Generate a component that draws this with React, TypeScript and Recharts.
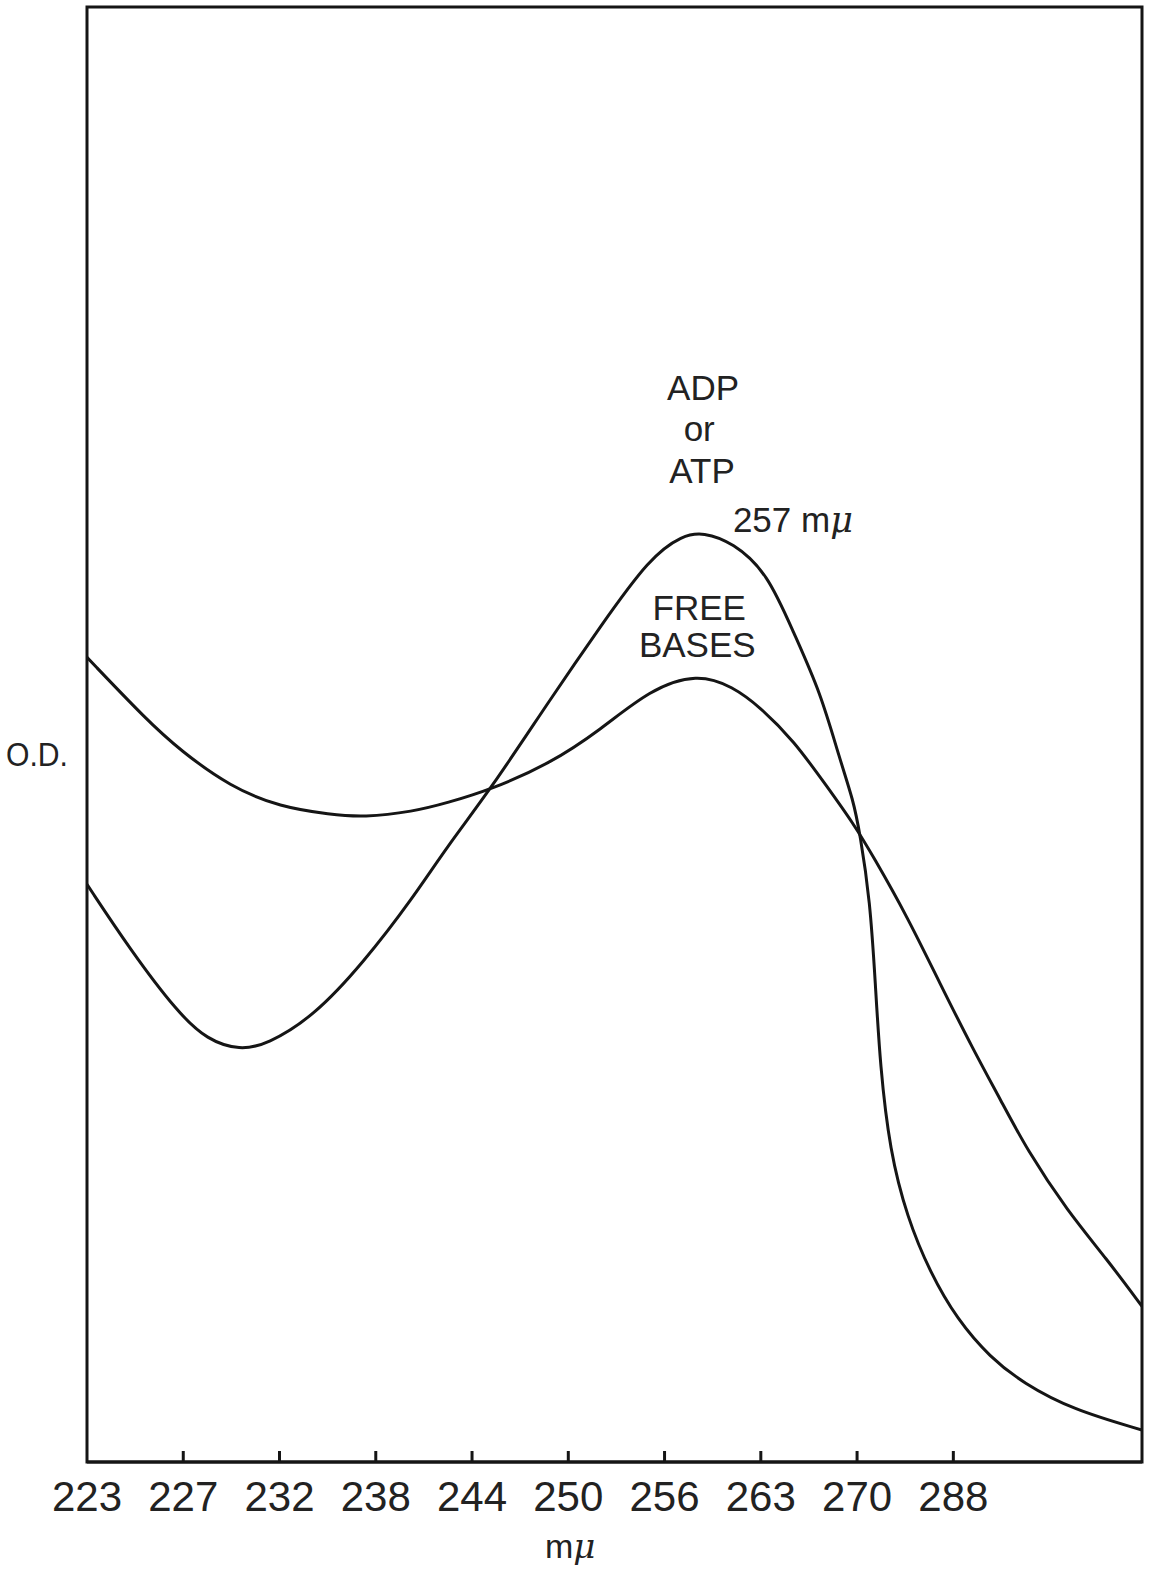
import React from "react";
import { LineChart, Line, XAxis, YAxis, ReferenceArea, ReferenceDot } from "recharts";

// x is measured in axis steps: the wavelength ticks are evenly spaced, 0 = 223 mμ, 9 = 288 mμ
const tickLabels = ["223", "227", "232", "238", "244", "250", "256", "263", "270", "288"];
const tickPos = [0, 1, 2, 3, 4, 5, 6, 7, 8, 9];
const X_END = 10.96;

// ADP or ATP, peak at 257 mμ (O.D. in arbitrary units, 0-100 of the frame)
const atpX = [0, 0.45, 0.94, 1.25, 1.59, 1.87, 2.35, 2.87, 3.39, 3.74, 4.19, 4.81, 5.33, 5.85, 6.19, 6.4, 6.71, 7.07, 7.34, 7.62, 7.82, 7.96, 8.03, 8.135, 8.19, 8.24, 8.34, 8.52, 8.76, 9.04, 9.38, 9.73, 10.24, 10.96];
const atpY = [39.7, 35.2, 30.9, 29.0, 28.3, 28.7, 30.6, 34.3, 38.8, 42.3, 46.2, 52.4, 57.4, 62.2, 63.7, 63.9, 63.2, 61.1, 57.0, 52.9, 48.3, 45.5, 43.2, 38.6, 32.9, 27.2, 21.4, 16.8, 13.0, 9.8, 7.2, 5.4, 3.6, 2.2];

// free bases
const baseX = [0, 0.62, 0.97, 1.49, 2.01, 2.53, 2.87, 3.39, 3.74, 4.19, 4.81, 5.33, 5.85, 6.34, 6.71, 6.99, 7.34, 7.69, 7.96, 8.17, 8.52, 8.86, 9.21, 9.49, 9.77, 10.18, 10.6, 10.96];
const baseY = [55.3, 51.0, 48.9, 46.4, 45.0, 44.5, 44.3, 44.7, 45.3, 46.2, 48.0, 50.3, 53.1, 54.2, 53.3, 51.9, 49.6, 46.4, 43.9, 41.6, 37.5, 32.9, 28.3, 24.9, 21.4, 17.3, 13.9, 10.7];

const notes = [
  { text: "ADP", x: 6.4, y: 73.0, anchor: "middle" },
  { text: "or", x: 6.36, y: 70.2, anchor: "middle" },
  { text: "ATP", x: 6.39, y: 67.3, anchor: "middle" },
  { text: "257 m", mu: true, x: 6.71, y: 63.9, anchor: "start" },
  { text: "FREE", x: 6.36, y: 57.9, anchor: "middle" },
  { text: "BASES", x: 6.34, y: 55.3, anchor: "middle" },
];

const atpData = atpX.map((x, i) => ({ x, y: atpY[i] }));
const baseData = baseX.map((x, i) => ({ x, y: baseY[i] }));

const INK = "#151515";
const FONT = "'Liberation Sans', Arial, sans-serif";

function WaveTick(props: any) {
  const { x, y, payload } = props;
  const i = payload.value as number;
  return (
    <g>
      {i > 0 && <line x1={x} x2={x} y1={y - 1} y2={y - 11} stroke={INK} strokeWidth={3} />}
      <text x={x} y={y + 49} textAnchor="middle" fontSize={42} fontFamily={FONT} fill="#222">
        {tickLabels[i]}
      </text>
    </g>
  );
}

export default function App() {
  return (
    <div style={{ position: "absolute", left: 0, top: 0, background: "#fff" }}>
      <LineChart width={1150} height={1569} margin={{ top: 7, right: 8, left: 0, bottom: 0 }}>
        <XAxis
          type="number"
          dataKey="x"
          domain={[0, X_END]}
          ticks={tickPos}
          allowDataOverflow
          height={107}
          tickSize={0}
          tickMargin={0}
          tickLine={false}
          axisLine={{ stroke: INK, strokeWidth: 3 }}
          tick={<WaveTick />}
          label={{
            content: (p: any) => {
              const vb = p.viewBox;
              return (
                <text x={vb.x + 458} y={vb.y + 96} fontSize={34} fontFamily={FONT} fill="#222">
                  m<tspan fontStyle="italic" fontFamily="'DejaVu Serif', serif">μ</tspan>
                </text>
              );
            },
          }}
        />
        <YAxis
          type="number"
          domain={[0, 100]}
          width={87}
          axisLine={false}
          tickLine={false}
          tick={false}
          label={{
            content: (p: any) => {
              const vb = p.viewBox;
              return (
                <text x={6} y={vb.y + 759} fontSize={34} fontFamily={FONT} fill="#222" textLength={62} lengthAdjust="spacingAndGlyphs">
                  O.D.
                </text>
              );
            },
          }}
        />
        <ReferenceArea x1={0} x2={X_END} y1={0} y2={100} fill="none" stroke={INK} strokeWidth={3} />
        <Line data={baseData} dataKey="y" type="basis" stroke={INK} strokeWidth={3} dot={false} isAnimationActive={false} />
        <Line data={atpData} dataKey="y" type="basis" stroke={INK} strokeWidth={3} dot={false} isAnimationActive={false} />
        {notes.map((n) => (
          <ReferenceDot
            key={n.text}
            x={n.x}
            y={n.y}
            r={0}
            shape={(p: any) => (
              <text x={p.cx} y={p.cy} textAnchor={n.anchor as any} fontSize={35} fontFamily={FONT} fill="#222">
                {n.text}
                {n.mu && <tspan fontStyle="italic" fontFamily="'DejaVu Serif', serif">μ</tspan>}
              </text>
            )}
          />
        ))}
      </LineChart>
    </div>
  );
}
